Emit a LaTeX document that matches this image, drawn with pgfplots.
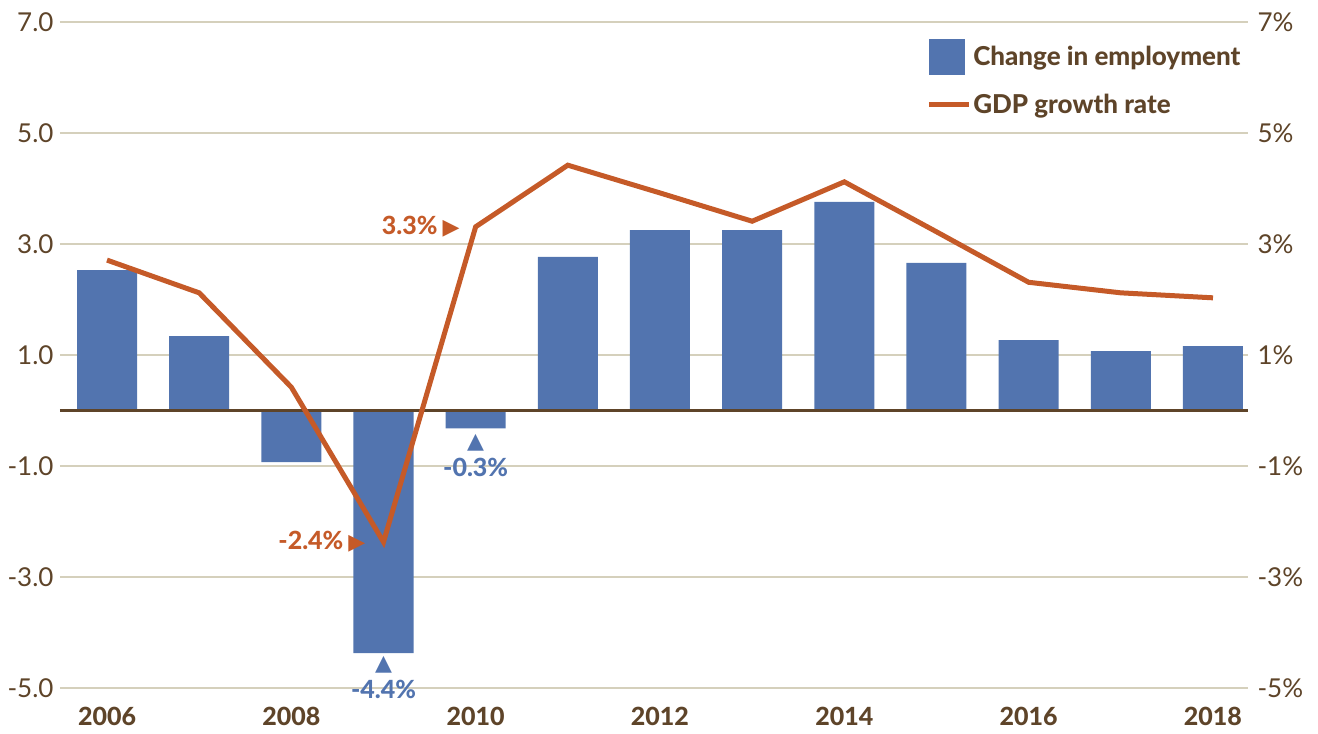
\documentclass[border=0pt]{standalone}
\usepackage{fontspec}
\setmainfont{Lato}[BoldFont={Lato Heavy}]
\newfontfamily\symfont{DejaVu Sans}
\usepackage{pgfplots}
\pgfplotsset{compat=1.18}
\definecolor{bblue}{HTML}{5274AF}
\definecolor{gorange}{HTML}{C55A28}
\definecolor{tbrown}{HTML}{5E4429}
\definecolor{gridc}{HTML}{D5D0BC}
\begin{document}
\begin{tikzpicture}
\useasboundingbox (-60bp,-46bp) rectangle (1258bp,688bp);
\begin{axis}[
  at={(0,0)}, anchor=south west,
  scale only axis, width=1188bp, height=666bp,
  xmin=2005.49, xmax=2018.38, ymin=-5, ymax=7,
  clip=false,
  axis line style={draw=none},
  major tick length=0pt,
  xtick={2006,2008,2010,2012,2014,2016,2018},
  xticklabels={2006,2008,2010,2012,2014,2016,2018},
  xticklabel style={font=\fontsize{25bp}{30bp}\selectfont\bfseries, text=tbrown, yshift=-16bp},
  ytick={-5,-3,-1,1,3,5,7},
  yticklabels={-5.0,-3.0,-1.0,1.0,3.0,5.0,7.0},
  yticklabel style={font=\fontsize{26bp}{30bp}\selectfont, text=tbrown, xshift=-3bp},
  ymajorgrids, grid style={gridc, line width=1.6bp},
  legend style={draw=none, fill=none, at={(0.729,0.975)}, anchor=north west,
    font=\fontsize{26bp}{28bp}\selectfont\bfseries, text=tbrown,
    row sep=17bp, inner sep=0pt},
  legend cell align=left,
]
\addplot[ybar, bar width=60bp, bar shift=0pt, fill=bblue, draw=none,
  legend image code/.code={\fill[bblue] (0bp,-18bp) rectangle (36bp,18bp);}]
coordinates {
(2006,2.53) (2007,1.34) (2008,-0.93) (2009,-4.37) (2010,-0.32) (2011,2.77)
(2012,3.25) (2013,3.25) (2014,3.76) (2015,2.66) (2016,1.27) (2017,1.07) (2018,1.16)
};
\addlegendentry{Change in employment}
\addplot[tbrown, line width=2.5bp, forget plot] coordinates {(2005.49,0) (2018.38,0)};
\addplot[gorange, line width=5bp, mark=none,
  legend image code/.code={\draw[gorange,line width=5bp] (0bp,0bp) -- (40bp,0bp);}]
coordinates {
(2006,2.71) (2007,2.12) (2008,0.42) (2009,-2.37) (2010,3.31) (2011,4.42)
(2012,3.92) (2013,3.41) (2014,4.12) (2015,3.22) (2016,2.31) (2017,2.12) (2018,2.03)
};
\addlegendentry{GDP growth rate}
% annotations
\node[anchor=east, text=gorange, inner sep=0pt, xshift=-16bp,
  font=\fontsize{25bp}{28bp}\selectfont\bfseries]
  at (axis cs:2010,3.31) {3.3\%\hspace{5bp}{\symfont\fontsize{22bp}{22bp}\selectfont ▶}};
\node[anchor=east, text=gorange, inner sep=0pt, xshift=-18bp,
  font=\fontsize{25bp}{28bp}\selectfont\bfseries]
  at (axis cs:2009,-2.37) {-2.4\%\hspace{5bp}{\symfont\fontsize{22bp}{22bp}\selectfont ▶}};
\node[text=bblue, inner sep=0pt, yshift=-15bp,
  font=\symfont\fontsize{22bp}{22bp}\selectfont] at (axis cs:2010,-0.32) {▲};
\node[text=bblue, inner sep=0pt, yshift=-39bp,
  font=\fontsize{25bp}{28bp}\selectfont\bfseries] at (axis cs:2010,-0.32) {-0.3\%};
\node[text=bblue, inner sep=0pt, yshift=-12bp,
  font=\symfont\fontsize{22bp}{22bp}\selectfont] at (axis cs:2009,-4.37) {▲};
\node[text=bblue, inner sep=0pt, yshift=-36bp,
  font=\fontsize{25bp}{28bp}\selectfont\bfseries] at (axis cs:2009,-4.37) {-4.4\%};
\end{axis}
\begin{axis}[
  at={(0,0)}, anchor=south west,
  scale only axis, width=1188bp, height=666bp,
  xmin=2005.49, xmax=2018.38, ymin=-5, ymax=7,
  axis line style={draw=none},
  hide x axis,
  major tick length=0pt,
  ytick={-5,-3,-1,1,3,5,7},
  yticklabels={-5\%,-3\%,-1\%,1\%,3\%,5\%,7\%},
  yticklabel pos=right,
  yticklabel style={font=\fontsize{26bp}{30bp}\selectfont, text=tbrown, xshift=6bp},
]
\end{axis}
\end{tikzpicture}
\end{document}
